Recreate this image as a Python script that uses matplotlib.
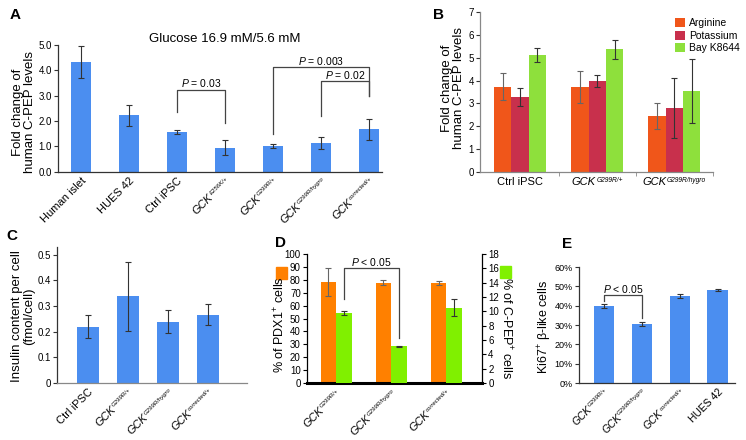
import numpy as np
import matplotlib
matplotlib.use("Agg")
import matplotlib.pyplot as plt
from matplotlib.transforms import offset_copy

plt.rcParams['font.family'] = ['Liberation Sans', 'DejaVu Sans']
plt.rcParams['mathtext.fontset'] = 'custom'
plt.rcParams['mathtext.it'] = 'Liberation Sans:italic'
plt.rcParams['mathtext.rm'] = 'Liberation Sans'
plt.rcParams['mathtext.bf'] = 'Liberation Sans:bold'
plt.rcParams['axes.linewidth'] = 0.9

# ---- data ----  ("GCK^xxx" -> italic GCK with small superscript)
a_labels = ["Human islet", "HUES 42", "Ctrl iPSC", "GCK^E256K/+", "GCK^G299R/+",
            "GCK^G299R/hygro", "GCK^corrected/+"]
a_vals = [4.33, 2.23, 1.56, 0.95, 1.01, 1.12, 1.68]
a_err = [0.65, 0.41, 0.07, 0.30, 0.07, 0.23, 0.41]

b_groups = ["Ctrl iPSC", "GCK^G299R/+", "GCK^G299R/hygro"]
b_series = ["Arginine", "Potassium", "Bay K8644"]
b_arginine = [3.73, 3.73, 2.45]
b_arginine_err = [0.58, 0.70, 0.55]
b_potassium = [3.29, 3.98, 2.80]
b_potassium_err = [0.40, 0.25, 1.33]
b_bayk = [5.11, 5.36, 3.56]
b_bayk_err = [0.30, 0.40, 1.40]

c_labels = ["Ctrl iPSC", "GCK^G299R/+", "GCK^G299R/hygro", "GCK^corrected/+"]
c_vals = [0.220, 0.337, 0.238, 0.266]
c_err = [0.044, 0.134, 0.045, 0.041]

d_labels = ["GCK^G299R/+", "GCK^G299R/hygro", "GCK^corrected/+"]
d_pdx1 = [78.5, 77.9, 77.2]
d_pdx1_err = [11.0, 2.0, 1.6]
d_cpep = [9.8, 5.1, 10.5]
d_cpep_err = [0.3, 0.05, 1.2]

e_labels = ["GCK^G299R/+", "GCK^G299R/hygro", "GCK^corrected/+", "HUES 42"]
e_vals = [40.0, 30.5, 45.0, 48.3]
e_err = [1.1, 0.8, 0.8, 0.5]

blue = '#4b8ef0'
ecol = '#333333'
W, H = 746, 440
fig = plt.figure(figsize=(W / 100, H / 100), dpi=100)
renderer = fig.canvas.get_renderer()


def box(l, t, r, b):
    return [l / W, 1 - b / H, (r - l) / W, (b - t) / H]


def text_width(s, size, style='normal'):
    t = fig.text(0, 0, s, fontsize=size, style=style)
    w = t.get_window_extent(renderer).width
    t.remove()
    return w


def xlabels(ax, labels, rot=45, size=7.5, supsize=4.3, pad=4):
    ax.set_xticks(range(len(labels)))
    ax.set_xticklabels([])
    base = ax.get_xaxis_transform()
    c, s = np.cos(np.radians(rot)), np.sin(np.radians(rot))
    for i, lab in enumerate(labels):
        if '^' in lab:
            main, sup = lab.split('^')
            ls = text_width(sup, supsize, 'italic') + 0.5
            lg = text_width(main, size, 'italic')
        else:
            main, sup, ls, lg = lab, None, 0, text_width(lab, size)
        style = 'italic' if sup else 'normal'
        if rot:
            tr = offset_copy(base, fig, x=-ls * c, y=-pad - ls * s, units='dots')
            ax.text(i, 0, main, transform=tr, rotation=rot, rotation_mode='anchor',
                    ha='right', va='top', fontsize=size, style=style)
            if sup:
                tr2 = offset_copy(base, fig, x=0, y=-pad, units='dots')
                ax.text(i, 0, sup, transform=tr2, rotation=rot, rotation_mode='anchor',
                        ha='right', va='top', fontsize=supsize, style='italic')
        else:
            x0 = -(lg + ls) / 2
            tr = offset_copy(base, fig, x=x0, y=-pad, units='dots')
            ax.text(i, 0, main, transform=tr, ha='left', va='top', fontsize=size, style=style)
            if sup:
                tr2 = offset_copy(base, fig, x=x0 + lg + 0.5, y=-pad, units='dots')
                ax.text(i, 0, sup, transform=tr2, ha='left', va='top',
                        fontsize=supsize, style='italic')


def style_ax(ax, xcol='#333333', ysize=7):
    for sp in ['top', 'right']:
        ax.spines[sp].set_visible(False)
    ax.spines['left'].set_color('#333333')
    ax.spines['bottom'].set_color(xcol)
    ax.tick_params(axis='y', labelsize=ysize, length=3, width=0.8, pad=1.5, color='#333333')
    ax.tick_params(axis='x', length=0)


def bracket(ax, x1, x2, top, y1, y2, text, ty):
    ax.plot([x1, x1, x2, x2], [y1, top, top, y2], color='#444444', lw=0.9)
    ax.text((x1 + x2) / 2, ty, text, ha='center', va='center', fontsize=7.5)


ekw = dict(elinewidth=0.8, capsize=2.5, capthick=0.8)

# ---- A ----
ax = fig.add_axes(box(58, 45, 382, 171.7))
x = np.arange(len(a_vals))
ax.bar(x, a_vals, 0.4, color=blue, yerr=a_err, ecolor=ecol, error_kw=ekw)
ax.set_xlim(-0.48, 6.27)
ax.set_ylim(0, 5)
ax.set_yticks(np.arange(0, 5.1, 1))
ax.set_yticklabels([f"{v:.1f}" for v in np.arange(0, 5.1, 1)])
style_ax(ax)
xlabels(ax, a_labels, size=8)
ax.text(3.0, 5.22, "Glucose 16.9 mM/5.6 mM", ha='center', va='center', fontsize=9.5)
bracket(ax, 2, 3, 3.21, 2.34, 1.94, r"$P$ = 0.03", 3.5)
bracket(ax, 4, 6, 4.12, 1.47, 2.98, r"$P$ = 0.003", 4.37)
bracket(ax, 5, 6, 3.57, 2.18, 2.98, r"$P$ = 0.02", 3.8)
fig.text(24 / W, 1 - 112 / H, "Fold change of\nhuman C-PEP levels", rotation=90,
         ha='center', va='center', fontsize=9.5, linespacing=1.1)
fig.text(10 / W, 1 - 15 / H, "A", fontsize=11, fontweight='bold', va='center')

# ---- B ----
ax = fig.add_axes(box(480, 12, 713, 172))
x = np.arange(len(b_groups))
w = 0.225
ax.bar(x - w, b_arginine, w, color='#f0561a', yerr=b_arginine_err, ecolor='#666666',
       error_kw=ekw, label=b_series[0])
ax.bar(x, b_potassium, w, color='#c8304c', yerr=b_potassium_err, ecolor=ecol,
       error_kw=ekw, label=b_series[1])
ax.bar(x + w, b_bayk, w, color='#8ee03c', yerr=b_bayk_err, ecolor=ecol,
       error_kw=ekw, label=b_series[2])
ax.set_xlim(-0.52, 2.5)
ax.set_ylim(0, 7)
ax.set_yticks(range(0, 8))
style_ax(ax, '#888888')
ax.spines['left'].set_color('#888888')
xlabels(ax, b_groups, rot=0, size=8, supsize=4.8, pad=5)
ax.set_xticks([0.5, 1.5, 2.5], minor=True)
ax.tick_params(axis='x', which='minor', length=3, color='#888888')
ax.legend(loc='upper left', bbox_to_anchor=(670 / W, 1 - 13 / H), bbox_transform=fig.transFigure,
          frameon=False, fontsize=7.5, handlelength=0.9, handleheight=0.9,
          labelspacing=0.25, borderpad=0, handletextpad=0.4)
fig.text(453 / W, 1 - 88 / H, "Fold change of\nhuman C-PEP levels", rotation=90,
         ha='center', va='center', fontsize=9.5, linespacing=1.1)
fig.text(433 / W, 1 - 15 / H, "B", fontsize=11, fontweight='bold', va='center')

# ---- C ----
ax = fig.add_axes(box(57, 246.7, 247, 383))
x = np.arange(len(c_vals))
ax.bar(x, c_vals, 0.55, color=blue, yerr=c_err, ecolor=ecol, error_kw=ekw)
ax.set_xlim(-0.78, 3.97)
ax.set_ylim(0, 0.531)
ax.set_yticks(np.arange(0, 0.51, 0.1))
ax.set_yticklabels(["0", "0.1", "0.2", "0.3", "0.4", "0.5"])
style_ax(ax, '#888888')
xlabels(ax, c_labels, size=8)
fig.text(23 / W, 1 - 316 / H, "Insulin content per cell\n(fmol/cell)", rotation=90,
         ha='center', va='center', fontsize=9.5, linespacing=1.1)
fig.text(6 / W, 1 - 236 / H, "C", fontsize=11, fontweight='bold', va='center')

# ---- D ----
ax = fig.add_axes(box(307, 254, 482, 383))
ax2 = ax.twinx()
x = np.arange(len(d_labels))
wd = 0.28
ax.bar(x - wd / 2, d_pdx1, wd, color='#ff8000', yerr=d_pdx1_err, ecolor='#666666',
       error_kw=ekw)
ax2.bar(x + wd / 2, d_cpep, wd, color='#80f000', yerr=d_cpep_err, ecolor=ecol,
        error_kw=ekw)
ax.set_xlim(-0.53, 2.65)
ax.set_ylim(0, 100)
ax2.set_ylim(0, 18)
ax.set_yticks(range(0, 101, 10))
ax2.set_yticks(range(0, 19, 2))
ax.spines['top'].set_visible(False)
ax2.spines['top'].set_visible(False)
ax2.spines['left'].set_visible(False)
ax2.spines['bottom'].set_visible(False)
ax.spines['right'].set_visible(False)
ax.spines['bottom'].set_linewidth(2.2)
ax.spines['bottom'].set_color('black')
ax.tick_params(axis='y', labelsize=7, length=3, width=0.8, pad=1.5)
ax.tick_params(axis='x', length=0)
ax2.tick_params(axis='y', labelsize=7, length=3, width=0.8, pad=1.5)
xlabels(ax, d_labels, size=8, pad=5)
bracket(ax, 0.14, 1.14, 88.9, 64.8, 34.5, r"$P$ < 0.05", 93.5)
fig.text(280 / W, 1 - 325 / H, "% of PDX1$^{+}$ cells", rotation=90,
         ha='center', va='center', fontsize=9)
fig.text(506 / W, 1 - 328 / H, "% of C-PEP$^{+}$ cells", rotation=270,
         ha='center', va='center', fontsize=9)
fig.patches.append(plt.Rectangle((276 / W, 1 - 279 / H), 11 / W, 12 / H,
                                 transform=fig.transFigure, color='#ff8000'))
fig.patches.append(plt.Rectangle((500 / W, 1 - 278 / H), 11 / W, 12 / H,
                                 transform=fig.transFigure, color='#80f000'))
fig.text(275 / W, 1 - 243 / H, "D", fontsize=11, fontweight='bold', va='center')

# ---- E ----
ax = fig.add_axes(box(579, 267, 735, 383))
x = np.arange(len(e_vals))
ax.bar(x, e_vals, 0.55, color=blue, yerr=e_err, ecolor=ecol,
       error_kw=dict(elinewidth=0.8, capsize=2, capthick=0.8))
ax.set_xlim(-0.66, 3.45)
ax.set_ylim(0, 60)
ax.set_yticks(range(0, 61, 10))
ax.set_yticklabels([f"{v}%" for v in range(0, 61, 10)])
style_ax(ax, ysize=6.5)
xlabels(ax, e_labels, size=7.5)
bracket(ax, 0, 1, 45.5, 42.5, 33.6, r"$P$ < 0.05", 48.5)
fig.text(545 / W, 1 - 327 / H, "Ki67$^{+}$ β-like cells", rotation=90,
         ha='center', va='center', fontsize=9)
fig.text(562 / W, 1 - 244 / H, "E", fontsize=11, fontweight='bold', va='center')

fig.savefig("out.png", dpi=100)
